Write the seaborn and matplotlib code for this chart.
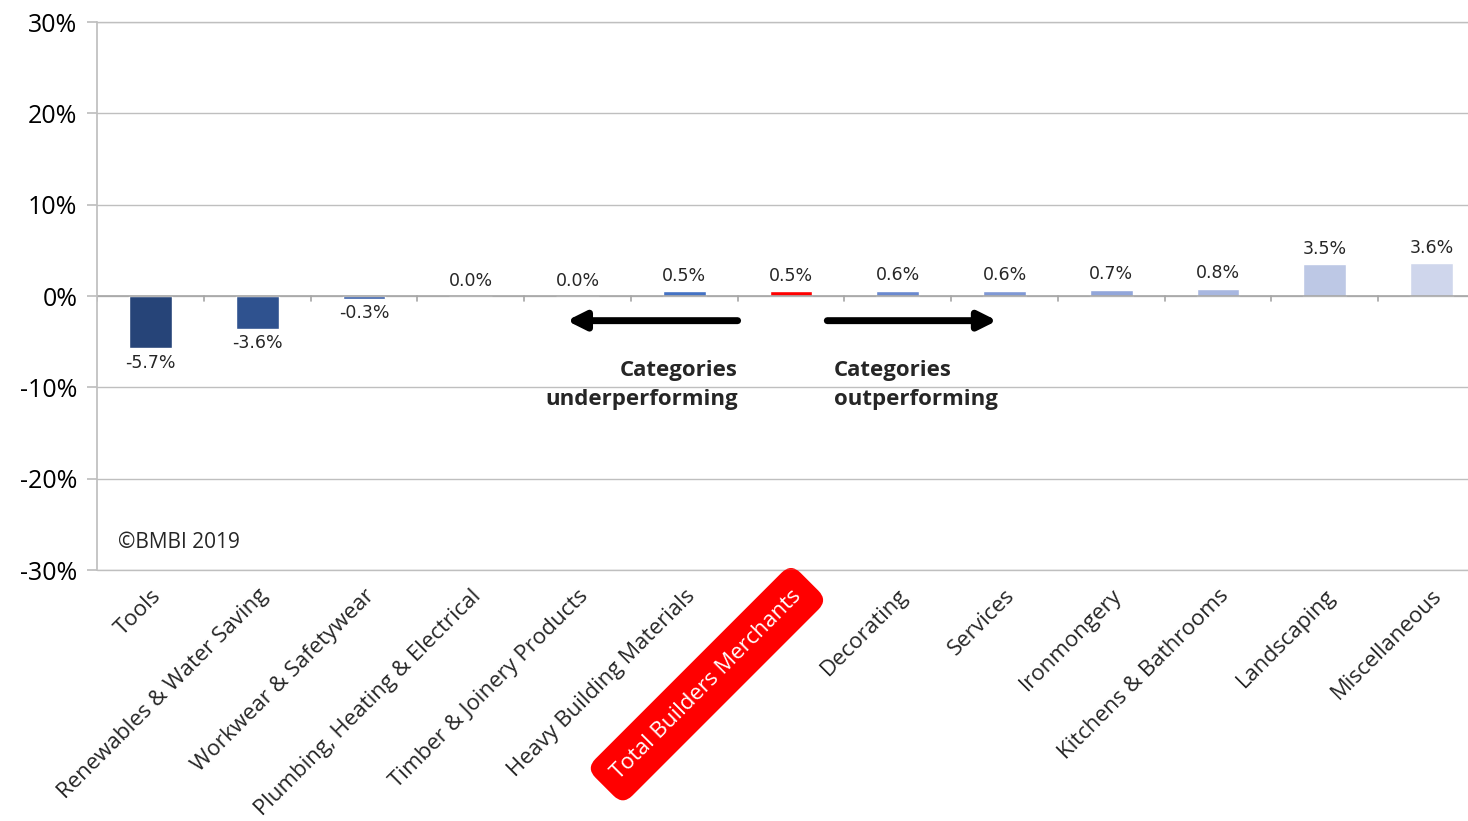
import matplotlib
matplotlib.use("Agg")
import matplotlib.pyplot as plt
import seaborn as sns
import pandas as pd
from matplotlib.ticker import FuncFormatter, FixedLocator

categories = ["Tools", "Renewables & Water Saving", "Workwear & Safetywear",
              "Plumbing, Heating & Electrical", "Timber & Joinery Products",
              "Heavy Building Materials", "Total Builders Merchants", "Decorating",
              "Services", "Ironmongery", "Kitchens & Bathrooms", "Landscaping",
              "Miscellaneous"]
values = [-5.7, -3.6, -0.3, 0.0, 0.0, 0.5, 0.5, 0.6, 0.6, 0.7, 0.8, 3.5, 3.6]
labels = ["-5.7%", "-3.6%", "-0.3%", "0.0%", "0.0%", "0.5%", "0.5%", "0.6%",
          "0.6%", "0.7%", "0.8%", "3.5%", "3.6%"]
colors = ["#264478", "#2F528F", "#3A5FA8", "#4068B8", "#4470C0", "#4472C4",
          "#FF0000", "#6A89CF", "#7F98D5", "#92A6DA", "#A8B7E0", "#BDC8E5",
          "#CFD6EC"]

sns.set_theme(style="white")
plt.rcParams['font.family'] = ['Open Sans', 'DejaVu Sans']

df = pd.DataFrame({"cat": categories, "val": values})
fig = plt.figure(figsize=(14.68, 8.21), dpi=100)
ax = fig.add_axes([97/1468, 1 - 570/821, 1388/1468, 548/821])

sns.barplot(data=df, x="cat", y="val", hue="cat", palette=colors, width=0.4,
            legend=False, ax=ax, saturation=1)

ax.set_ylim(-30, 30)
ax.set_xlim(-0.5, len(categories) - 0.5)
ax.yaxis.set_major_locator(FixedLocator([-30, -20, -10, 0, 10, 20, 30]))
ax.yaxis.set_major_formatter(FuncFormatter(lambda v, p: f"{v:.0f}%"))
ax.grid(axis="y", color="#BFBFBF", linewidth=1)
ax.set_axisbelow(True)
for yv in (-30, 30):
    ax.axhline(yv, color="#BFBFBF", linewidth=1, clip_on=False, zorder=0)
for s in ["top", "right", "bottom"]:
    ax.spines[s].set_visible(False)
ax.spines["left"].set_color("#BFBFBF")
ax.tick_params(axis="y", which="both", left=True, length=7, color="#BFBFBF",
               labelsize=18, pad=7, labelcolor="#000000")
ax.set_xlabel("")
ax.set_ylabel("")

# zero axis with boundary ticks
ax.axhline(0, color="#A6A6A6", linewidth=1.2, zorder=1)
for b in range(len(categories) + 1):
    ax.plot([b - 0.5, b - 0.5], [0, -0.6], color="#A6A6A6", linewidth=1.2, zorder=1)

ax.tick_params(axis="x", bottom=False, length=0, pad=11)
ax.set_xticks(range(len(categories)))
ax.set_xticklabels(categories, rotation=45, ha="right", rotation_mode="anchor",
                   fontsize=16)
for i, t in enumerate(ax.get_xticklabels()):
    if categories[i] == "Total Builders Merchants":
        t.set_color("white")
        t.set_bbox(dict(boxstyle="round,pad=0.7,rounding_size=0.6",
                        facecolor="#FF0000", edgecolor="none"))

# data labels
for i, (v, lab) in enumerate(zip(values, labels)):
    if v < 0:
        ax.text(i, v - 0.6, lab, ha="center", va="top", fontsize=12.5,
                family="DejaVu Sans", color="#262626")
    else:
        ax.text(i, v + 0.7, lab, ha="center", va="bottom", fontsize=12.5,
                family="DejaVu Sans", color="#262626")

# arrows
ax.annotate("", xy=(3.9, -2.7), xytext=(5.5, -2.7),
            arrowprops=dict(arrowstyle="-|>,head_length=0.9,head_width=0.45",
                            color="black", lw=5, shrinkA=0, shrinkB=0))
ax.annotate("", xy=(7.93, -2.7), xytext=(6.34, -2.7),
            arrowprops=dict(arrowstyle="-|>,head_length=0.9,head_width=0.45",
                            color="black", lw=5, shrinkA=0, shrinkB=0))

ax.text(5.5, -7.0, "Categories\nunderperforming", ha="right", va="top",
        fontsize=16, fontweight="bold", linespacing=1.5)
ax.text(6.4, -7.0, "Categories\noutperforming", ha="left", va="top",
        fontsize=16, fontweight="bold", linespacing=1.5)

ax.text(0.015, 0.051, "©BMBI 2019", transform=ax.transAxes, ha="left",
        va="center", fontsize=15)

fig.savefig("out.png", dpi=100)
